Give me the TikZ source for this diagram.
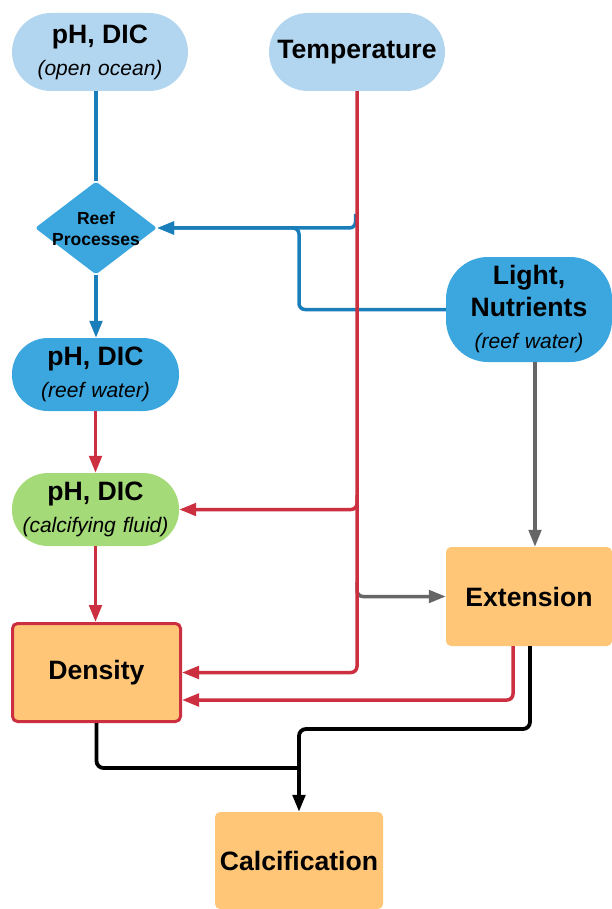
\documentclass[tikz,border=0pt]{standalone}
\usepackage{fontspec}
\setmainfont{Liberation Sans}
\usetikzlibrary{shapes.geometric,arrows.meta}
\definecolor{pale}{HTML}{B3D6F0}
\definecolor{midblue}{HTML}{3CA6DE}
\definecolor{lineblue}{HTML}{1A7EBA}
\definecolor{leaf}{HTML}{A5DA78}
\definecolor{peach}{HTML}{FFC677}
\definecolor{crimson}{HTML}{CC2F3F}
\definecolor{slate}{HTML}{666666}
\newcommand{\hdfont}{\fontsize{26.6}{32}\selectfont\bfseries}
\newcommand{\subfont}{\fontsize{21}{32}\selectfont\mdseries\itshape\spaceskip=7pt plus 1pt}
\begin{document}
\begin{tikzpicture}[x=1pt,y=-1pt,
  box/.style={inner sep=0pt, align=center, font=\hdfont, text=black},
  tip/.style={-{Triangle[length=17pt,width=12.5pt]}},
  bline/.style={draw=lineblue, line width=3.5pt, rounded corners=6pt},
  rline/.style={draw=crimson, line width=3.5pt, rounded corners=6pt},
  gline/.style={draw=slate, line width=3.5pt, rounded corners=6pt},
  kline/.style={draw=black, line width=3.8pt, rounded corners=7pt}]
\useasboundingbox (0,0) rectangle (612,909);

% nodes
\node[box, fill=pale, minimum width=176pt, minimum height=78pt, rounded corners=39pt] (ocean) at (100,52) {pH, DIC\\{\subfont (open ocean)}};
\node[box, fill=pale, minimum width=176pt, minimum height=78pt, rounded corners=39pt] (temp) at (357,52) {Temperature};
\node[diamond, fill=midblue, minimum width=122pt, minimum height=93pt, inner sep=0pt, rounded corners=3pt] (reef) at (96,228) {};
\node[align=center, inner sep=0pt, font=\fontsize{17.5}{21}\selectfont\bfseries] (reeflbl) at (96,229) {Reef\\Processes};
\node[box, fill=midblue, minimum width=167pt, minimum height=73pt, rounded corners=36pt] (reefw) at (95.5,374.5) {pH, DIC\\{\subfont (reef water)}};
\node[box, fill=leaf, minimum width=167pt, minimum height=73pt, rounded corners=36pt] (fluid) at (95.5,509.5) {pH, DIC\\{\subfont (calcifying fluid)}};
\node[box, fill=peach, draw=crimson, line width=3pt, minimum width=168pt, minimum height=98pt, rounded corners=5pt] (density) at (96.5,672.5) {Density};
\node[box, fill=midblue, minimum width=166pt, minimum height=105pt, rounded corners=42pt] (light) at (529,309.5) {Light,\\Nutrients\\{\subfont (reef water)}};
\node[box, fill=peach, minimum width=166pt, minimum height=99pt, rounded corners=5pt] (ext) at (529,596.5) {Extension};
\node[box, fill=peach, minimum width=168pt, minimum height=97pt, rounded corners=5pt] (calcif) at (299,860.5) {Calcification};

% junction coordinates
\coordinate (tb) at (355.5,214);
\coordinate (tf) at (357,495);
\coordinate (tg) at (357,582);

% blue connectors
\draw[bline] (reef.north |- ocean.south) -- (reef.north);
\draw[bline,tip] (reef.south) -- (reefw.north -| reef.south);
\draw[bline,tip] (tb) -- (tb |- reef.east) -- (reef.east);
\draw[bline,tip] (light.west) -- (299,309.5) -- (299,228) -- (reef.east);

% gray connectors
\draw[gline,tip] (tg) -- (tg |- ext.west) -- (ext.west);
\draw[gline,tip] ([xshift=6pt]light.south) -- ([xshift=6pt]ext.north);

% red connectors
\draw[rline,tip] (reefw.south) -- (fluid.north);
\draw[rline,tip] (fluid.south) -- (fluid.south |- density.north);
\draw[rline,tip] (temp.south) -- (temp.south |- density.east) -- (density.east);
\draw[rline,tip] (tf) -- (tf |- fluid.east) -- (fluid.east);
\draw[rline,tip] ([xshift=-16pt]ext.south) |- ([yshift=-27.5pt]density.east);

% black connectors
\draw[kline,tip] ([xshift=1pt]ext.south) -- (530,729) -- (299,729) -- (calcif.north);
\draw[kline] (density.south) -- (96.5,768) -- (299,768);
\end{tikzpicture}
\end{document}
